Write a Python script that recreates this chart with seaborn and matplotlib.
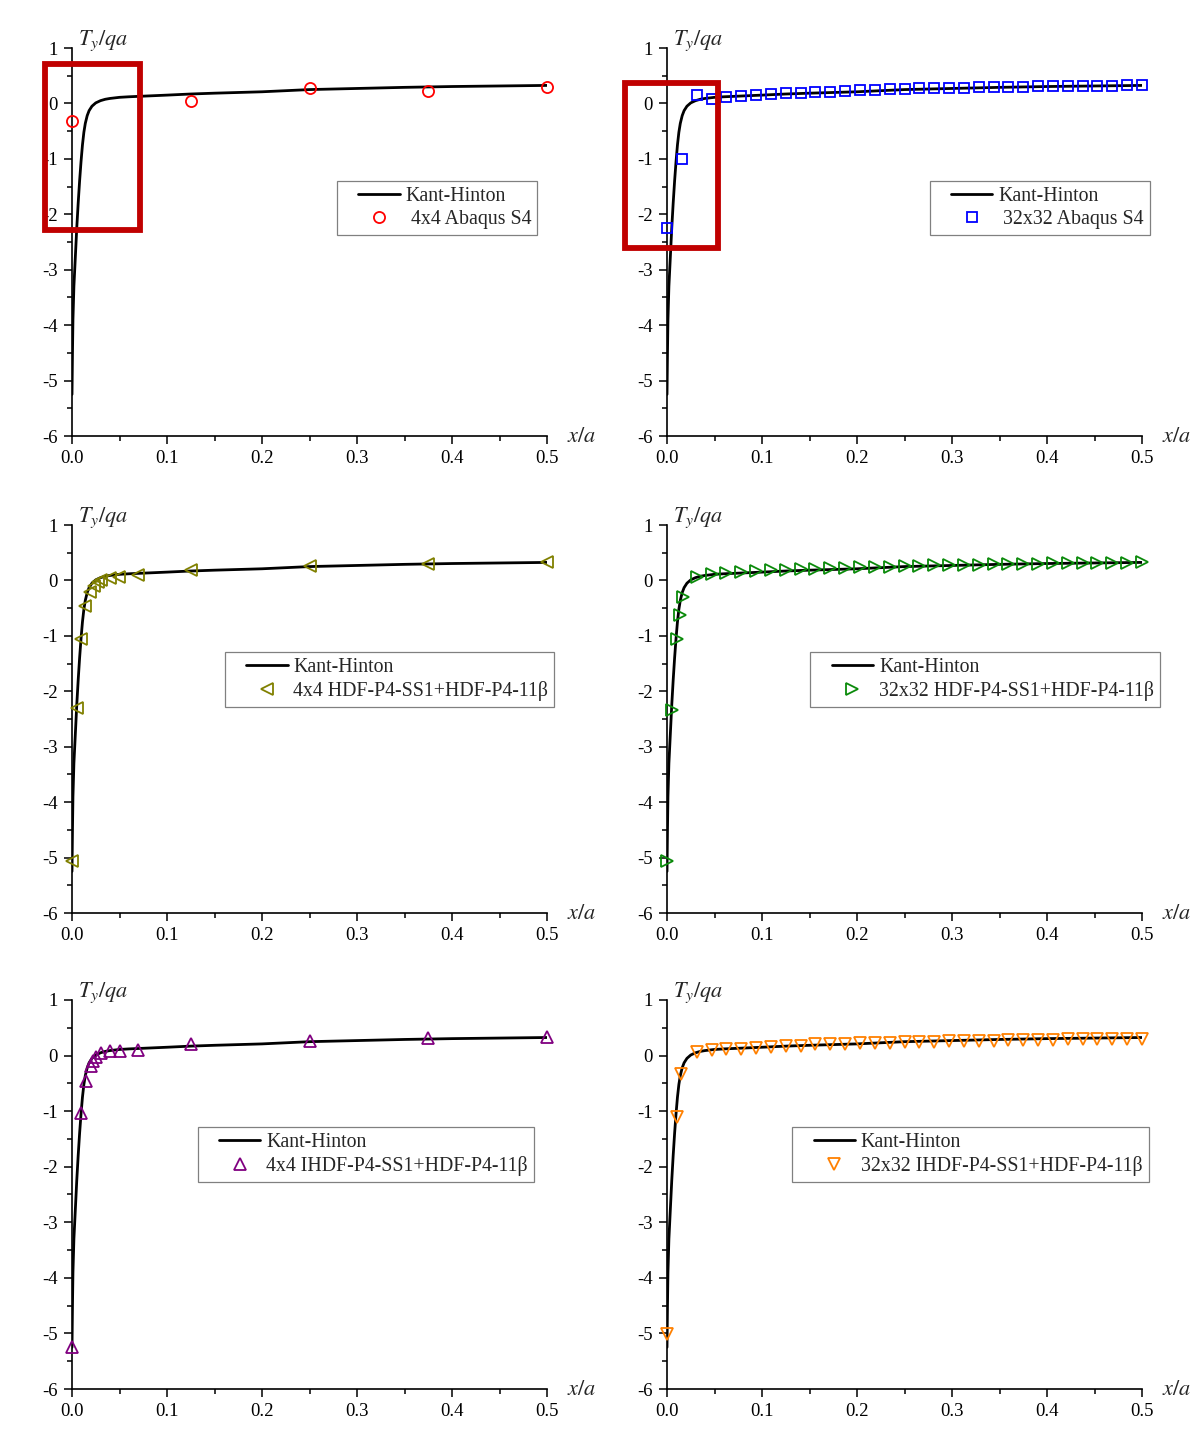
import numpy as np
import pandas as pd
import matplotlib
matplotlib.use("Agg")
import matplotlib.pyplot as plt
from matplotlib.patches import Rectangle
from matplotlib.ticker import MultipleLocator
from matplotlib.lines import Line2D
from matplotlib.legend_handler import HandlerLine2D
import seaborn as sns

sns.set_theme(style="white")
plt.rcParams["font.family"] = ["Liberation Serif", "DejaVu Serif"]
plt.rcParams["mathtext.fontset"] = "stix"
plt.rcParams["axes.unicode_minus"] = False

# Reference solution (Kant-Hinton)
kh_x = [0.0, 0.0005, 0.001, 0.002, 0.003, 0.004, 0.005, 0.0065, 0.008, 0.0095,
        0.011, 0.0125, 0.014, 0.016, 0.018, 0.021, 0.025, 0.03, 0.035, 0.04,
        0.05, 0.06, 0.08, 0.1, 0.125, 0.15, 0.2, 0.25, 0.3, 0.35, 0.4, 0.45, 0.5]
kh_y = [-5.25, -4.5, -3.9, -3.3, -2.95, -2.6, -2.25, -1.8, -1.4, -1.05,
        -0.75, -0.52, -0.36, -0.22, -0.13, -0.05, 0.01, 0.05, 0.075, 0.09,
        0.11, 0.12, 0.135, 0.15, 0.17, 0.185, 0.21, 0.25, 0.27, 0.29, 0.305, 0.315, 0.325]

# 4x4 Abaqus S4
abq4_x = [0.0, 0.125, 0.25, 0.375, 0.5]
abq4_y = [-0.31, 0.04, 0.27, 0.22, 0.30]

# 32x32 Abaqus S4
grid32_x = [0.0, 0.0156, 0.0313, 0.0469, 0.0625, 0.0781, 0.0938, 0.1094, 0.125,
            0.1406, 0.1563, 0.1719, 0.1875, 0.2031, 0.2188, 0.2344, 0.25, 0.2656,
            0.2813, 0.2969, 0.3125, 0.3281, 0.3438, 0.3594, 0.375, 0.3906, 0.4063,
            0.4219, 0.4375, 0.4531, 0.4688, 0.4844, 0.5]
abq32_y = [-2.25, -1.0, 0.15, 0.08, 0.11, 0.13, 0.145, 0.165, 0.18, 0.19, 0.205,
           0.215, 0.225, 0.235, 0.245, 0.255, 0.26, 0.27, 0.275, 0.28, 0.285, 0.29,
           0.295, 0.30, 0.305, 0.31, 0.312, 0.315, 0.318, 0.32, 0.322, 0.325, 0.327]

# 4x4 HDF-P4-SS1+HDF-P4-11beta
hdf4_x = [0.0, 0.0053, 0.0092, 0.014, 0.0186, 0.023, 0.0275, 0.031, 0.04, 0.0495,
          0.069, 0.125, 0.25, 0.375, 0.5]
hdf4_y = [-5.07, -2.31, -1.05, -0.47, -0.2, -0.1, -0.03, 0.01, 0.04, 0.07,
          0.1, 0.19, 0.26, 0.30, 0.33]

# 32x32 HDF-P4-SS1+HDF-P4-11beta
hdf32_x = [0.0, 0.0057, 0.0105, 0.014, 0.017] + grid32_x[2:]
hdf32_y = [-5.07, -2.34, -1.05, -0.62, -0.29, 0.07, 0.12, 0.13, 0.15, 0.17, 0.18,
           0.19, 0.20, 0.21, 0.22, 0.23, 0.24, 0.245, 0.25, 0.26, 0.265, 0.27,
           0.275, 0.28, 0.285, 0.29, 0.295, 0.30, 0.305, 0.31, 0.312, 0.315,
           0.318, 0.32, 0.322, 0.325]

# 4x4 IHDF-P4-SS1+HDF-P4-11beta
ihdf4_x = [0.0, 0.0092, 0.015, 0.0197, 0.022, 0.0257, 0.030, 0.040, 0.050,
           0.069, 0.125, 0.25, 0.375, 0.5]
ihdf4_y = [-5.25, -1.04, -0.45, -0.18, -0.1, -0.02, 0.05, 0.09, 0.09,
           0.1, 0.21, 0.27, 0.32, 0.34]

# 32x32 IHDF-P4-SS1+HDF-P4-11beta
ihdf32_x = [0.0, 0.0105, 0.015] + grid32_x[2:]
ihdf32_y = [-5.01, -1.11, -0.34, 0.06, 0.10, 0.11, 0.12, 0.13, 0.155, 0.165,
            0.18, 0.20, 0.205, 0.21, 0.22, 0.225, 0.23, 0.24, 0.245, 0.25, 0.255,
            0.26, 0.265, 0.27, 0.275, 0.28, 0.28, 0.285, 0.29, 0.29, 0.295, 0.295,
            0.30, 0.30]

panels = [
    dict(x=abq4_x, y=abq4_y, label=" 4x4 Abaqus S4", marker="o", color="#FF0000",
         ms=8, leg=(0.558, 0.657), box=(-0.0286, 0.0711, 0.707, -2.277)),
    dict(x=grid32_x, y=abq32_y, label=" 32x32 Abaqus S4", marker="s", color="#0000FF",
         ms=7, leg=(0.553, 0.657), box=(-0.0444, 0.0537, 0.376, -2.6)),
    dict(x=hdf4_x, y=hdf4_y, label="4x4 HDF-P4-SS1+HDF-P4-11β", marker="<",
         color="#808000", ms=8.5, leg=(0.322, 0.673), box=None),
    dict(x=hdf32_x, y=hdf32_y, label="32x32 HDF-P4-SS1+HDF-P4-11β", marker=">",
         color="#0A8A0A", ms=8.5, leg=(0.302, 0.673), box=None),
    dict(x=ihdf4_x, y=ihdf4_y, label="4x4 IHDF-P4-SS1+HDF-P4-11β", marker="^",
         color="#800080", ms=8.5, leg=(0.265, 0.674), box=None),
    dict(x=ihdf32_x, y=ihdf32_y, label="32x32 IHDF-P4-SS1+HDF-P4-11β", marker="v",
         color="#FF8000", ms=8.5, leg=(0.264, 0.674), box=None),
]


class IndentedLine2D(HandlerLine2D):
    """Legend handler that leaves a blank gap on the left of each handle."""

    def __init__(self, indent_px, **kw):
        super().__init__(**kw)
        self.indent_px = indent_px

    def create_artists(self, legend, orig_handle, xdescent, ydescent, width,
                       height, fontsize, trans):
        s = self.indent_px
        return super().create_artists(legend, orig_handle, xdescent - s, ydescent,
                                      width - s, height, fontsize, trans)


W, H = 1198, 1429
fig = plt.figure(figsize=(W / 100, H / 100), dpi=100)
fig.patch.set_facecolor("white")

col_left = [72, 667]
col_width = 475
row_tb = [(48, 436), (525, 913), (1000, 1389)]

kh = pd.DataFrame({"x": kh_x, "y": kh_y})

for i, p in enumerate(panels):
    r, c = divmod(i, 2)
    top, bot = row_tb[r]
    ax = fig.add_axes([col_left[c] / W, 1 - bot / H, col_width / W, (bot - top) / H])
    ax.set_facecolor("white")

    sns.lineplot(data=kh, x="x", y="y", ax=ax, color="black", lw=2.0,
                 sort=False, estimator=None, label="Kant-Hinton")
    pts = pd.DataFrame({"x": p["x"], "y": p["y"]})
    sns.lineplot(data=pts, x="x", y="y", ax=ax, sort=False, estimator=None,
                 linestyle="", marker=p["marker"], markersize=p["ms"],
                 markerfacecolor="none", markeredgecolor=p["color"],
                 markeredgewidth=1.3, color=p["color"], label=p["label"],
                 clip_on=False, zorder=3)

    ax.set_xlim(0, 0.5)
    ax.set_ylim(-6, 1)
    ax.xaxis.set_minor_locator(MultipleLocator(0.05))
    ax.yaxis.set_minor_locator(MultipleLocator(0.5))
    ax.set_xticks([0, 0.1, 0.2, 0.3, 0.4, 0.5])
    ax.set_xticklabels(["0.0", "0.1", "0.2", "0.3", "0.4", "0.5"])
    ax.set_yticks([-6, -5, -4, -3, -2, -1, 0, 1])
    ax.set_yticklabels(["-6", "-5", "-4", "-3", "-2", "-1", "0", "1"])
    ax.tick_params(which="both", direction="out", colors="black", width=1.1,
                   labelsize=13.5, bottom=True, left=True)
    ax.tick_params(which="major", length=6, pad=4)
    ax.tick_params(which="minor", length=3.5)
    ax.set_xlabel("")
    ax.set_ylabel("")
    for s in ["top", "right"]:
        ax.spines[s].set_visible(False)
    for s in ["left", "bottom"]:
        ax.spines[s].set_color("black")
        ax.spines[s].set_linewidth(1.2)
    ax.grid(False)

    ax.text(0.012, 0.987, r"$T_y/qa$", transform=ax.transAxes, fontsize=16,
            ha="left", va="bottom")
    ax.text(1.042, -0.005, r"$x/a$", transform=ax.transAxes, fontsize=16,
            ha="left", va="center")

    handles, labels = ax.get_legend_handles_labels()
    hmap = {h: IndentedLine2D(11) for h in handles if isinstance(h, Line2D)}
    leg = ax.legend(handles, labels, loc="upper left", bbox_to_anchor=p["leg"],
                    borderaxespad=0, frameon=True, fancybox=False,
                    edgecolor="#808080", framealpha=1, fontsize=14.3,
                    handlelength=2.85, handletextpad=0.3, borderpad=0.3,
                    labelspacing=0.22, numpoints=1, markerscale=1.0,
                    handler_map=hmap)
    leg.get_frame().set_linewidth(0.9)

    if p["box"] is not None:
        x0, x1, y0, y1 = p["box"]
        ax.add_patch(Rectangle((x0, y1), x1 - x0, y0 - y1, fill=False,
                               edgecolor="#C00000", linewidth=4.2,
                               clip_on=False, zorder=5))

fig.savefig("out.png", dpi=100, facecolor="white")
